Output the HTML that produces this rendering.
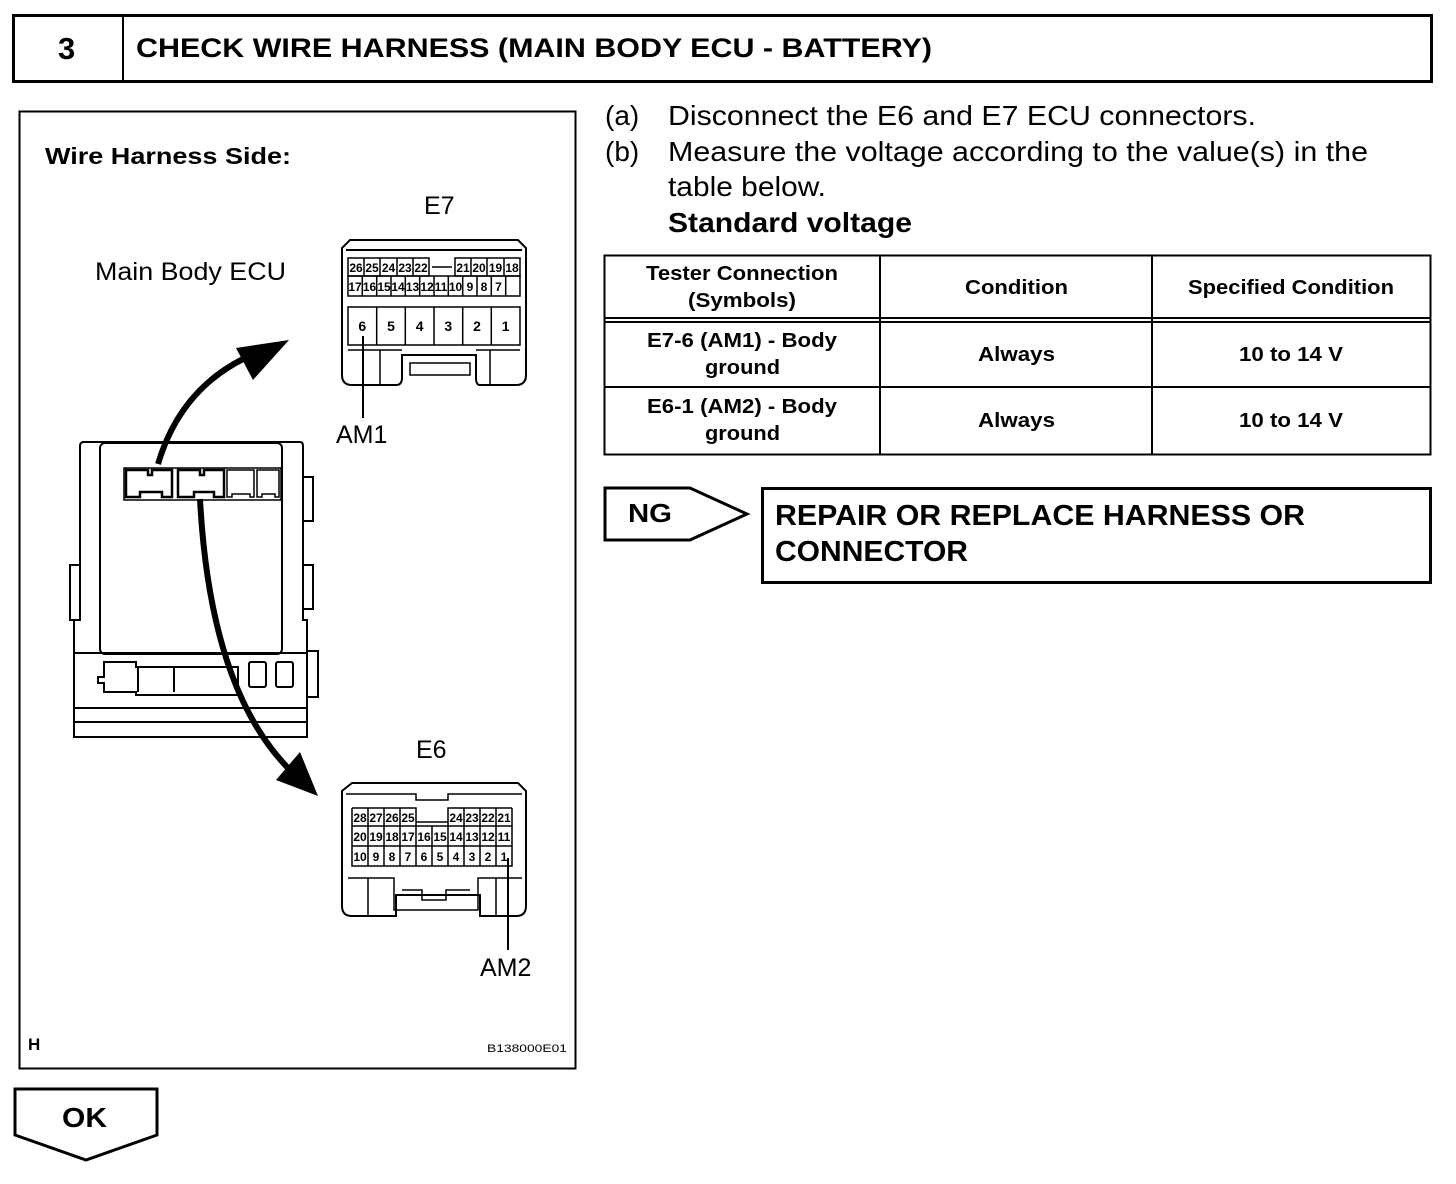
<!DOCTYPE html>
<html><head><meta charset="utf-8"><style>
body{margin:0;background:#fff;}
svg{display:block;font-family:"Liberation Sans",Arial,sans-serif;}
.b{font-weight:bold}
</style></head><body>
<svg width="1456" height="1184" viewBox="0 0 1456 1184" xmlns="http://www.w3.org/2000/svg">
<g fill="none" stroke="#000">
<rect x="13.5" y="15.5" width="1418" height="66" stroke-width="3"/>
<line x1="123" y1="15" x2="123" y2="81" stroke-width="2"/>
<rect x="19.5" y="111.5" width="556" height="957" stroke-width="2"/>
<rect x="604.5" y="255.5" width="826" height="199" stroke-width="2"/>
<line x1="880" y1="255" x2="880" y2="454" stroke-width="2"/>
<line x1="1152" y1="255" x2="1152" y2="454" stroke-width="2"/>
<line x1="604" y1="318" x2="1431" y2="318" stroke-width="2"/>
<line x1="604" y1="322" x2="1431" y2="322" stroke-width="2"/>
<line x1="604" y1="387" x2="1431" y2="387" stroke-width="2"/>
<polygon points="605,488 690,488 747,514 690,540 605,540" stroke-width="3"/>
<rect x="762.5" y="488.5" width="668" height="94" stroke-width="3"/>
<polygon points="15,1089 157,1089 157,1135 86,1160 15,1135" stroke-width="3"/>
</g>

<text x="58" y="59" font-size="31" class="b">3</text>
<text x="136" y="57" font-size="27" class="b" textLength="796" lengthAdjust="spacingAndGlyphs">CHECK WIRE HARNESS (MAIN BODY ECU - BATTERY)</text>

<g font-size="28">
<text x="605" y="125">(a)</text><text x="668" y="125" textLength="588" lengthAdjust="spacingAndGlyphs">Disconnect the E6 and E7 ECU connectors.</text>
<text x="605" y="161">(b)</text><text x="668" y="161" textLength="700" lengthAdjust="spacingAndGlyphs">Measure the voltage according to the value(s) in the</text>
<text x="668" y="196" textLength="158" lengthAdjust="spacingAndGlyphs">table below.</text>
<text x="668" y="232" class="b" textLength="244" lengthAdjust="spacingAndGlyphs">Standard voltage</text>
</g>

<g font-size="20" class="b">
<text x="646" y="280" textLength="192" lengthAdjust="spacingAndGlyphs">Tester Connection</text>
<text x="688" y="307" textLength="108" lengthAdjust="spacingAndGlyphs">(Symbols)</text>
<text x="965" y="294" textLength="103" lengthAdjust="spacingAndGlyphs">Condition</text>
<text x="1188" y="294" textLength="206" lengthAdjust="spacingAndGlyphs">Specified Condition</text>
<text x="647" y="347" textLength="190" lengthAdjust="spacingAndGlyphs">E7-6 (AM1) - Body</text>
<text x="705" y="374" textLength="75" lengthAdjust="spacingAndGlyphs">ground</text>
<text x="978" y="361" textLength="77" lengthAdjust="spacingAndGlyphs">Always</text>
<text x="1239" y="361" textLength="104" lengthAdjust="spacingAndGlyphs">10 to 14 V</text>
<text x="647" y="413" textLength="190" lengthAdjust="spacingAndGlyphs">E6-1 (AM2) - Body</text>
<text x="705" y="440" textLength="75" lengthAdjust="spacingAndGlyphs">ground</text>
<text x="978" y="427" textLength="77" lengthAdjust="spacingAndGlyphs">Always</text>
<text x="1239" y="427" textLength="104" lengthAdjust="spacingAndGlyphs">10 to 14 V</text>
</g>

<text x="628" y="522" font-size="26" class="b" textLength="44" lengthAdjust="spacingAndGlyphs">NG</text>
<text x="775" y="525" font-size="29" class="b" textLength="530" lengthAdjust="spacingAndGlyphs">REPAIR OR REPLACE HARNESS OR</text>
<text x="775" y="561" font-size="29" class="b" textLength="193" lengthAdjust="spacingAndGlyphs">CONNECTOR</text>
<text x="62" y="1127" font-size="28" class="b" textLength="45" lengthAdjust="spacingAndGlyphs">OK</text>

<text x="45" y="164" font-size="23" class="b" textLength="246" lengthAdjust="spacingAndGlyphs">Wire Harness Side:</text>
<text x="95" y="280" font-size="25" textLength="191" lengthAdjust="spacingAndGlyphs">Main Body ECU</text>
<text x="424" y="214" font-size="25">E7</text>
<text x="416" y="758" font-size="25">E6</text>
<text x="336" y="443" font-size="25">AM1</text>
<text x="480" y="976" font-size="25">AM2</text>
<text x="28" y="1050" font-size="17" class="b">H</text>
<text x="487" y="1052" font-size="11" textLength="80" lengthAdjust="spacingAndGlyphs">B138000E01</text>

<g fill="none" stroke="#000" stroke-width="2">
<path d="M82,442 H300 Q303,442 303,446 V620 H307 V737 H74 V620 H80 V446 Q80,442 84,442"/>
<rect x="100" y="443" width="182" height="211" rx="5"/>
<line x1="74" y1="653" x2="307" y2="653"/>
<line x1="74" y1="708" x2="307" y2="708"/>
<line x1="74" y1="722" x2="307" y2="722"/>
<rect x="303" y="477" width="10" height="44"/>
<rect x="303" y="565" width="10" height="44"/>
<rect x="70" y="565" width="10" height="55"/>
<rect x="307" y="651" width="11" height="46"/>
<rect x="249" y="662" width="17" height="25" rx="2"/>
<rect x="276" y="662" width="17" height="25" rx="2"/>
<path d="M104,662 H136 V667 H238 V695 H136 V692 H104 V683 H98 V677 H104 Z"/>
<line x1="138" y1="667" x2="138" y2="692"/>
<line x1="174" y1="667" x2="174" y2="692"/>
<rect x="124" y="468" width="157" height="32" stroke-width="1.5"/>
<path d="M126,470 H148 V475 H152 V470 H172 V497 H162 V492 H140 V497 H126 Z" stroke-width="2.5"/>
<path d="M178,470 H200 V475 H204 V470 H224 V497 H214 V492 H194 V497 H178 Z" stroke-width="2.5"/>
<path d="M227,470 H254 V497 H250 V494 H232 V497 H227 Z" stroke-width="1.5"/>
<path d="M257,470 H279 V497 H275 V494 H262 V497 H257 Z" stroke-width="1.5"/>
</g>
<g fill="none" stroke="#000" stroke-width="6">
<path d="M158,464 Q180,390 245,358"/>
<path d="M200,499 Q210,690 290,770"/>
</g>
<polygon points="236,348 289,340 253,380" fill="#000"/>
<polygon points="276,780 318,796 300,752" fill="#000"/>

<g fill="none" stroke="#000" stroke-width="2">
<path d="M350,240 H518 L526,248 V375 Q526,385 516,385 H480 Q476,385 476,378 V355 H402 V378 Q402,385 396,385 H352 Q342,385 342,375 V248 Z"/>
<path d="M346,250 H522"/>
<rect x="348" y="258" width="81" height="18" stroke-width="1.5"/>
<rect x="455" y="258" width="65" height="18" stroke-width="1.5"/>
<line x1="432" y1="267" x2="452" y2="267" stroke-width="1.5"/>
<rect x="348" y="276" width="172" height="20" stroke-width="1.5"/>
<rect x="348" y="307" width="172" height="38" stroke-width="1.5"/>
<g stroke-width="1.5">
<line x1="364" y1="258" x2="364" y2="276"/><line x1="380" y1="258" x2="380" y2="276"/><line x1="397" y1="258" x2="397" y2="276"/><line x1="413" y1="258" x2="413" y2="276"/>
<line x1="471" y1="258" x2="471" y2="276"/><line x1="487" y1="258" x2="487" y2="276"/><line x1="504" y1="258" x2="504" y2="276"/>
<line x1="362.3" y1="276" x2="362.3" y2="296"/><line x1="376.7" y1="276" x2="376.7" y2="296"/><line x1="391" y1="276" x2="391" y2="296"/><line x1="405.3" y1="276" x2="405.3" y2="296"/><line x1="419.7" y1="276" x2="419.7" y2="296"/><line x1="434" y1="276" x2="434" y2="296"/><line x1="448.3" y1="276" x2="448.3" y2="296"/><line x1="462.7" y1="276" x2="462.7" y2="296"/><line x1="477" y1="276" x2="477" y2="296"/><line x1="491.3" y1="276" x2="491.3" y2="296"/><line x1="505.7" y1="276" x2="505.7" y2="296"/>
<line x1="376.7" y1="307" x2="376.7" y2="345"/><line x1="405.3" y1="307" x2="405.3" y2="345"/><line x1="434" y1="307" x2="434" y2="345"/><line x1="462.7" y1="307" x2="462.7" y2="345"/><line x1="491.3" y1="307" x2="491.3" y2="345"/>
</g>
<path d="M348,350 H402 M476,350 H520" stroke-width="1.5"/>
<path d="M380,350 V385 M490,350 V385" stroke-width="1.5"/>
<path d="M410,363 H470 V375 H410 Z" stroke-width="1.5"/>
<line x1="363" y1="336" x2="363" y2="418" stroke-width="2"/>
</g>
<g font-size="12" font-weight="bold" text-anchor="middle">
<text x="356" y="272">26</text><text x="372" y="272">25</text><text x="388.5" y="272">24</text><text x="405" y="272">23</text><text x="421" y="272">22</text>
<text x="463" y="272">21</text><text x="479" y="272">20</text><text x="495.5" y="272">19</text><text x="512" y="272">18</text>
<text x="355" y="291">17</text><text x="369.5" y="291">16</text><text x="384" y="291">15</text><text x="398" y="291">14</text><text x="412.5" y="291">13</text><text x="427" y="291">12</text><text x="441" y="291">11</text><text x="455.5" y="291">10</text><text x="470" y="291">9</text><text x="484" y="291">8</text><text x="498.5" y="291">7</text>
</g>
<g font-size="14" font-weight="bold" text-anchor="middle">
<text x="362.3" y="331">6</text><text x="391" y="331">5</text><text x="419.7" y="331">4</text><text x="448.3" y="331">3</text><text x="477" y="331">2</text><text x="505.7" y="331">1</text>
</g>

<g fill="none" stroke="#000" stroke-width="2">
<path d="M352,783 H518 L526,791 V906 Q526,916 516,916 H480 V895 H396 V916 H352 Q342,916 342,906 V791 Z"/>
<path d="M346,794 H416 V800 H448 V794 H522" stroke-width="1.5"/>
<path d="M352,808 H416 V826 M448,826 V808 H512" stroke-width="1.5"/>
<path d="M416,822 H448" stroke-width="1.5"/>
<rect x="352" y="826" width="160" height="40" stroke-width="1.5"/>
<g stroke-width="1.5">
<line x1="352" y1="808" x2="352" y2="826"/><line x1="368" y1="808" x2="368" y2="866"/><line x1="384" y1="808" x2="384" y2="866"/><line x1="400" y1="808" x2="400" y2="866"/>
<line x1="416" y1="826" x2="416" y2="866"/><line x1="432" y1="826" x2="432" y2="866"/><line x1="448" y1="826" x2="448" y2="866"/>
<line x1="464" y1="808" x2="464" y2="866"/><line x1="480" y1="808" x2="480" y2="866"/><line x1="496" y1="808" x2="496" y2="866"/><line x1="512" y1="808" x2="512" y2="826"/>
<line x1="352" y1="846" x2="512" y2="846"/>
</g>
<path d="M348,878 H394 V910 H478 V878 H522" stroke-width="1.5"/>
<path d="M368,878 V916 M496,878 V916" stroke-width="1.5"/>
<path d="M402,890 H422 V900 H446 V890 H470" stroke-width="1.5"/>
<line x1="508" y1="858" x2="508" y2="950" stroke-width="2"/>
</g>
<g font-size="12" font-weight="bold" text-anchor="middle">
<text x="360" y="822">28</text><text x="376" y="822">27</text><text x="392" y="822">26</text><text x="408" y="822">25</text>
<text x="456" y="822">24</text><text x="472" y="822">23</text><text x="488" y="822">22</text><text x="504" y="822">21</text>
<text x="360" y="841">20</text><text x="376" y="841">19</text><text x="392" y="841">18</text><text x="408" y="841">17</text><text x="424" y="841">16</text><text x="440" y="841">15</text><text x="456" y="841">14</text><text x="472" y="841">13</text><text x="488" y="841">12</text><text x="504" y="841">11</text>
<text x="360" y="861">10</text><text x="376" y="861">9</text><text x="392" y="861">8</text><text x="408" y="861">7</text><text x="424" y="861">6</text><text x="440" y="861">5</text><text x="456" y="861">4</text><text x="472" y="861">3</text><text x="488" y="861">2</text><text x="504" y="861">1</text>
</g>
</svg>
</body></html>
